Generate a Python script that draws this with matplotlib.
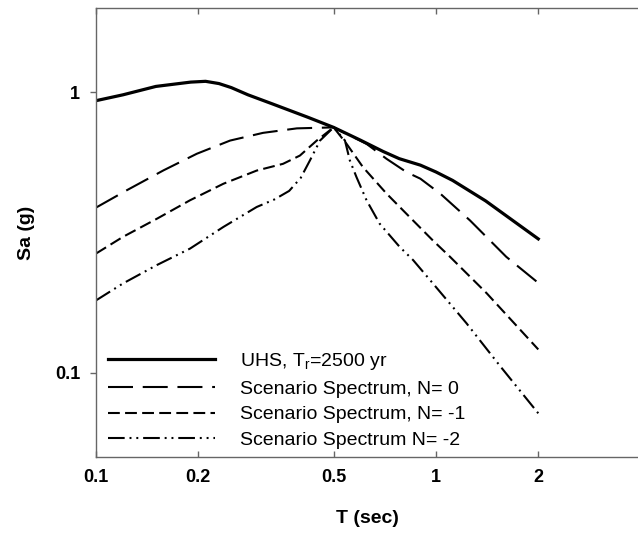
import matplotlib
matplotlib.use("Agg")
import matplotlib.pyplot as plt
from matplotlib.ticker import FixedLocator, FixedFormatter, NullLocator

plt.rcParams['font.family'] = ['Liberation Sans', 'DejaVu Sans']
plt.rcParams['lines.scale_dashes'] = False
plt.rcParams['mathtext.fontset'] = 'custom'
plt.rcParams['mathtext.rm'] = 'Liberation Sans'

# UHS, Tr = 2500 yr
t_uhs = [0.1, 0.12, 0.15, 0.17, 0.19, 0.21, 0.23, 0.25, 0.28, 0.33, 0.42, 0.5, 0.6, 0.7, 0.78, 0.9, 1.0, 1.12, 1.4, 2.0]
sa_uhs = [0.934, 0.98, 1.05, 1.07, 1.088, 1.095, 1.075, 1.04, 0.98, 0.91, 0.815, 0.75, 0.675, 0.615, 0.58, 0.55, 0.52, 0.485, 0.41, 0.30]

# scenario spectrum N = 0
t_n0 = [0.1, 0.123, 0.158, 0.198, 0.248, 0.31, 0.39, 0.5, 0.625, 0.716, 0.82, 0.9, 1.03, 1.26, 1.61, 2.0]
sa_n0 = [0.388, 0.447, 0.527, 0.604, 0.673, 0.717, 0.744, 0.75, 0.655, 0.579, 0.519, 0.492, 0.435, 0.349, 0.259, 0.209]

# scenario spectrum N = -1
t_n1 = [0.1, 0.12, 0.151, 0.189, 0.237, 0.297, 0.355, 0.398, 0.446, 0.5, 0.546, 0.61, 0.716, 0.837, 0.98, 1.1, 1.41, 2.0]
sa_n1 = [0.266, 0.305, 0.354, 0.412, 0.472, 0.526, 0.556, 0.595, 0.673, 0.75, 0.655, 0.541, 0.435, 0.359, 0.296, 0.259, 0.192, 0.121]

# scenario spectrum N = -2
t_n2 = [0.1, 0.12, 0.151, 0.189, 0.237, 0.297, 0.335, 0.37, 0.4, 0.426, 0.456, 0.5, 0.54, 0.558, 0.584, 0.625, 0.683, 0.782, 0.857, 0.98, 1.23, 1.54, 2.0]
sa_n2 = [0.181, 0.208, 0.242, 0.277, 0.331, 0.39, 0.415, 0.445, 0.495, 0.572, 0.673, 0.75, 0.673, 0.572, 0.498, 0.412, 0.34, 0.281, 0.252, 0.208, 0.150, 0.106, 0.0716]

x_ticks = [0.1, 0.2, 0.5, 1, 2]
x_labels = ['0.1', '0.2', '0.5', '1', '2']
y_ticks = [0.1, 1]
y_labels = ['0.1', '1']

fig = plt.figure(figsize=(6.38, 5.33), dpi=100)
ax = fig.add_axes([96 / 638, 1 - 457 / 533, 1 - 96 / 638, (457 - 8) / 533])

ax.plot(t_uhs, sa_uhs, color='black', lw=2.3, label='UHS, T$_\\mathregular{r}$=2500 yr')
ax.plot(t_n0, sa_n0, color='black', lw=1.5, linestyle=(0, (18, 7)),
        label='Scenario Spectrum, N= 0')
ax.plot(t_n1, sa_n1, color='black', lw=1.5, linestyle=(0, (8.5, 3.8)),
        label='Scenario Spectrum, N= -1')
ax.plot(t_n2, sa_n2, color='black', lw=1.5, linestyle=(0, (12, 3.5, 1.4, 3.5, 1.4, 3.5)),
        label='Scenario Spectrum N= -2')

ax.set_xscale('log')
ax.set_yscale('log')
ax.set_xlim(0.1, 3.93)
ax.set_ylim(0.05, 2)

ax.xaxis.set_major_locator(FixedLocator(x_ticks))
ax.xaxis.set_major_formatter(FixedFormatter(x_labels))
ax.xaxis.set_minor_locator(NullLocator())
ax.yaxis.set_major_locator(FixedLocator(y_ticks))
ax.yaxis.set_major_formatter(FixedFormatter(y_labels))
ax.yaxis.set_minor_locator(NullLocator())

for s in ['left', 'top', 'bottom']:
    ax.spines[s].set_color('#666666')
    ax.spines[s].set_linewidth(1.0)
ax.spines['right'].set_visible(False)

ax.tick_params(axis='x', which='major', direction='in', top=True, bottom=True,
               length=4.5, width=1, color='#666666', labelsize=13, pad=9)
ax.tick_params(axis='y', which='major', direction='out', left=True, right=False,
               length=4.5, width=1, color='#666666', labelsize=13, pad=7)
for lab in ax.get_xticklabels() + ax.get_yticklabels():
    lab.set_fontweight('bold')

ax.set_xlabel('T (sec)', fontsize=14, fontweight='bold', labelpad=17)
ax.set_ylabel('Sa (g)', fontsize=14, fontweight='bold', labelpad=14)

ax.legend(loc='lower left', frameon=False, fontsize=14, handlelength=5.5,
          handletextpad=1.3, labelspacing=0.42, borderaxespad=0.0,
          bbox_to_anchor=(0.008, 0.0))

fig.savefig('out.png', dpi=100)
